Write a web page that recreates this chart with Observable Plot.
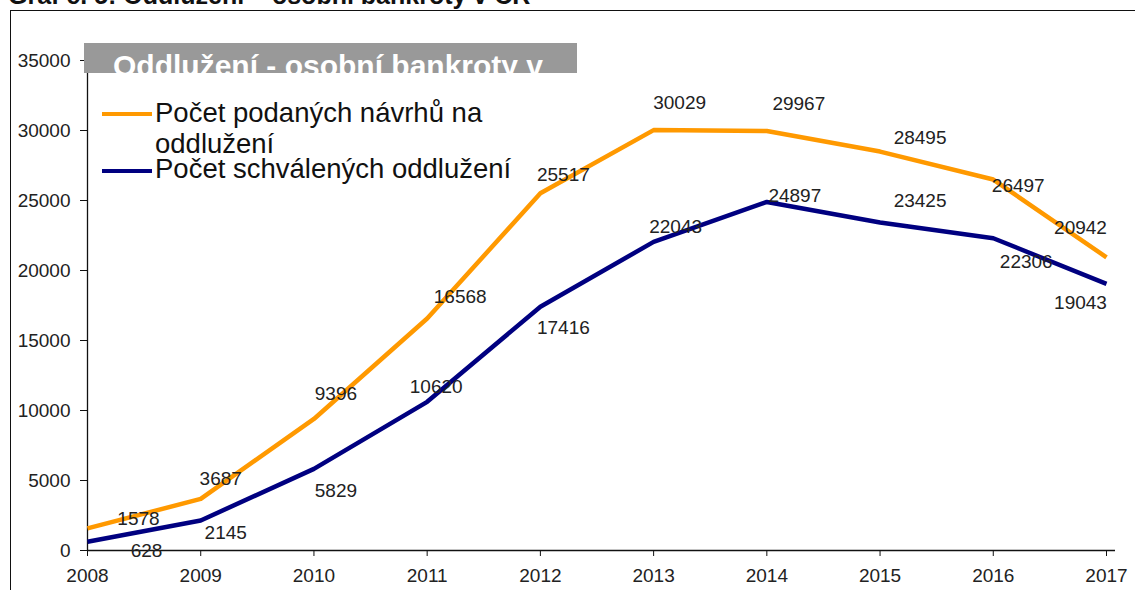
<!DOCTYPE html>
<html>
<head>
<meta charset="utf-8">
<script src="https://cdn.jsdelivr.net/npm/d3@7"></script>
<script src="https://cdn.jsdelivr.net/npm/@observablehq/plot@0.6"></script>
<style>
  html, body { margin: 0; padding: 0; background: #fff; overflow: hidden; }
  #stage { position: relative; width: 1135px; height: 590px; overflow: hidden; font-family: "Liberation Sans", Arial, sans-serif; color: #222; }
  #frame { position: absolute; left: 10px; top: 10px; width: 1200px; height: 700px; border: 1.5px solid #111; box-sizing: border-box; }
  #chart { position: absolute; left: 0; top: 0; }
  #title { position: absolute; left: 8px; top: -17px; font-weight: bold; font-size: 25px; line-height: 1; white-space: nowrap; color: #111; }
  #banner { position: absolute; left: 84px; top: 43px; width: 493px; height: 30px; background: #999999; overflow: hidden; }
  #banner span { position: absolute; left: 29px; top: 8px; font-weight: bold; font-size: 30px; line-height: 1; color: #fff; white-space: nowrap; }
  .legline { position: absolute; left: 102px; width: 50px; height: 4px; }
  .legtext { position: absolute; left: 155px; font-size: 27.5px; line-height: 1; white-space: nowrap; color: #111; }
</style>
</head>
<body>
<div id="stage">
  <div id="frame"></div>
  <div id="chart"></div>
  <div id="banner"><span id="bannerText"></span></div>
  <div id="legend"></div>
  <div id="title"></div>
</div>
<script>
// ---- data ----
const chartTitle = "Graf č. 5: Oddlužení – osobní bankroty v ČR";
const bannerTitle = "Oddlužení - osobní bankroty v";
const years = [2008, 2009, 2010, 2011, 2012, 2013, 2014, 2015, 2016, 2017];
const podane = [1578, 3687, 9396, 16568, 25517, 30029, 29967, 28495, 26497, 20942];
const schvalene = [628, 2145, 5829, 10620, 17416, 22043, 24897, 23425, 22306, 19043];
const seriesNames = ["Počet podaných návrhů na oddlužení", "Počet schválených oddlužení"];
const legendLines = [["Počet podaných návrhů na", "oddlužení"], ["Počet schválených oddlužení"]];
const seriesColors = ["#FF9900", "#000080"];
const yTicks = [0, 5000, 10000, 15000, 20000, 25000, 30000, 35000];

// label offsets (px, relative to the data point)
const podaneDx = [51, 20, 22, 33, 23, 26, 32, 40, 25, -26];
const podaneDy = [-10, -20, -25, -22, -18, -27, -27, -14, 6, -29];
const schvaleneDx = [59, 25, 22, 9, 23, 22, 28, 40, 33, -26];
const schvaleneDy = [9, 12, 22, -15, 21, -15, -6, -22, 24, 19];

// ---- build tables ----
const rows = [];
years.forEach((yr, i) => {
  rows.push({year: yr, value: podane[i], series: seriesNames[0], dx: podaneDx[i], dy: podaneDy[i]});
  rows.push({year: yr, value: schvalene[i], series: seriesNames[1], dx: schvaleneDx[i], dy: schvaleneDy[i]});
});

const labelMarks = rows.map(r => Plot.text([r], {
  x: "year", y: "value", text: d => String(d.value),
  dx: r.dx, dy: r.dy, fontSize: 19, fill: "#222", textAnchor: "middle", lineAnchor: "middle"
}));

const chart = Plot.plot({
  width: 1135,
  height: 590,
  marginLeft: 87,
  marginRight: 29,
  marginTop: 60,
  marginBottom: 40,
  style: {background: "transparent", fontFamily: "'Liberation Sans', Arial, sans-serif", color: "#222"},
  x: {domain: [years[0], years[years.length - 1]]},
  y: {domain: [0, yTicks[yTicks.length - 1]]},
  color: {domain: seriesNames, range: seriesColors},
  marks: [
    Plot.ruleX([years[0]], {y1: 0, y2: yTicks[yTicks.length - 1], stroke: "#111", strokeWidth: 1.3}),
    Plot.ruleY([0], {stroke: "#111", strokeWidth: 1.3, insetRight: -9}),
    Plot.axisY({ticks: yTicks, tickSize: 7, tickPadding: 10, fontSize: 19, label: null, tickFormat: d => String(d), stroke: "#111"}),
    Plot.axisX({ticks: years, tickSize: 6, tickPadding: 12, fontSize: 19, label: null, tickFormat: d => String(d), stroke: "#111"}),
    Plot.line(rows, {x: "year", y: "value", z: "series", stroke: "series", strokeWidth: 4.5, strokeLinecap: "butt", strokeLinejoin: "round"}),
    ...labelMarks
  ]
});
document.getElementById("chart").appendChild(chart);

// ---- titles & legend ----
document.getElementById("title").textContent = chartTitle;
document.getElementById("bannerText").textContent = bannerTitle;
const legend = document.getElementById("legend");
const lineTops = [112, 169];
const textTops = [[99, 130], [155]];
seriesNames.forEach((s, i) => {
  const ln = document.createElement("div");
  ln.className = "legline";
  ln.style.top = lineTops[i] + "px";
  ln.style.background = seriesColors[i];
  legend.appendChild(ln);
  legendLines[i].forEach((t, j) => {
    const tx = document.createElement("div");
    tx.className = "legtext";
    tx.style.top = textTops[i][j] + "px";
    tx.textContent = t;
    legend.appendChild(tx);
  });
});
</script>
</body>
</html>
